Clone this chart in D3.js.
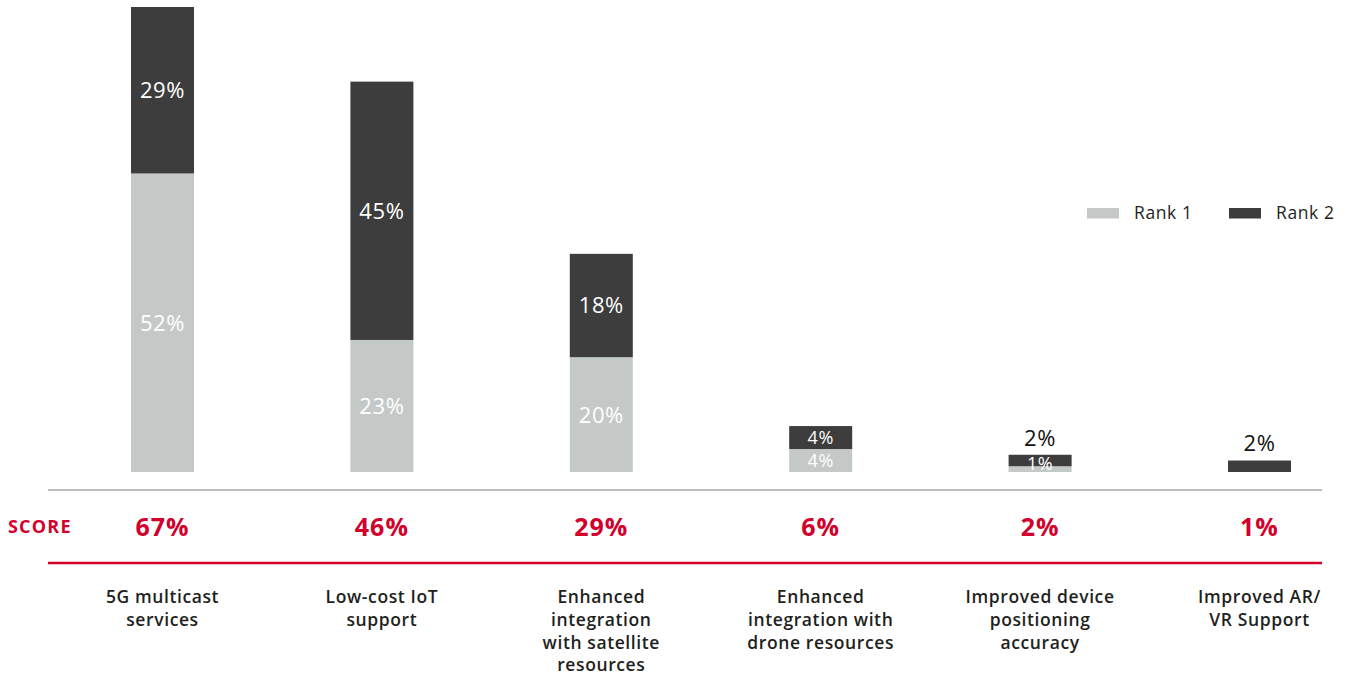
<!DOCTYPE html>
<html>
<head>
<meta charset="utf-8">
<script src="https://cdn.jsdelivr.net/npm/d3@7"></script>
<style>
  html, body { margin: 0; padding: 0; background: #fff; }
  svg { display: block; font-family: "Open Sans", "Noto Sans", sans-serif; }
</style>
</head>
<body>
<svg id="chart" width="1346" height="676"></svg>
<script>
// Ranking of expected capabilities: share of respondents ranking each first / second
const categories = [
  ["5G multicast", "services"],
  ["Low-cost IoT", "support"],
  ["Enhanced", "integration", "with satellite", "resources"],
  ["Enhanced", "integration with", "drone resources"],
  ["Improved device", "positioning", "accuracy"],
  ["Improved AR/", "VR Support"]
];
const rank1 = [52, 23, 20, 4, 1, 0];
const rank2 = [29, 45, 18, 4, 2, 2];
const scores = [67, 46, 29, 6, 2, 1];
const seriesNames = ["Rank 1", "Rank 2"];

const colors = { rank1: "#c4c9c8", rank2: "#3c3d3c", red: "#d2002b", text: "#231f20", rule: "#a9a9a9" };

const svg = d3.select("#chart");
const ids = categories.map((_, i) => i);

const x = d3.scalePoint().domain(ids).range([162.5, 1259.5]);
const barW = 63;
const y = d3.scaleLinear().domain([0, 81]).range([472, 7]);

const rows = ids.map(i => ({ i, r1: rank1[i], r2: rank2[i] }));
const stacked = d3.stack().keys(["r1", "r2"])(rows);

// stacked bars
const layer = svg.append("g").selectAll("g")
  .data(stacked).join("g")
  .attr("fill", (d, k) => k === 0 ? colors.rank1 : colors.rank2);

layer.selectAll("rect")
  .data(d => d.filter(s => s[1] - s[0] > 0))
  .join("rect")
  .attr("x", s => x(s.data.i) - barW / 2)
  .attr("width", barW)
  .attr("y", s => y(s[1]))
  .attr("height", s => y(s[0]) - y(s[1]));

// value labels: inside the segment when it is tall enough, above the bar otherwise
stacked.forEach((ser, k) => {
  ser.forEach(s => {
    const v = s[1] - s[0];
    if (v <= 0) return;
    const h = y(s[0]) - y(s[1]);
    const inside = h >= 15 || k === 0;
    let cy, fill;
    if (inside) {
      cy = Math.min((y(s[0]) + y(s[1])) / 2, y(0) - 8);
      fill = "#ffffff";
    } else {
      cy = y(s[1]) - 17;
      fill = "#111111";
    }
    svg.append("text")
      .attr("x", x(s.data.i))
      .attr("y", cy)
      .attr("dy", "0.36em")
      .attr("text-anchor", "middle")
      .attr("font-size", h < 30 && inside ? 18 : 22)
      .attr("letter-spacing", 0.6)
      .attr("fill", fill)
      .text(v + "%");
  });
});

// baseline rule and score rule
svg.append("line").attr("x1", 48).attr("x2", 1322).attr("y1", 490).attr("y2", 490)
  .attr("stroke", colors.rule).attr("stroke-width", 1.5);
svg.append("line").attr("x1", 48).attr("x2", 1322).attr("y1", 563).attr("y2", 563)
  .attr("stroke", colors.red).attr("stroke-width", 2.5);

// score row
svg.append("text").attr("x", 8).attr("y", 527).attr("dy", "0.36em")
  .attr("font-size", 18).attr("font-weight", 700).attr("letter-spacing", 1.2)
  .attr("fill", colors.red)
  .text("SCORE");
svg.selectAll("text.score").data(ids).join("text")
  .attr("class", "score")
  .attr("x", i => x(i)).attr("y", 527).attr("dy", "0.36em")
  .attr("text-anchor", "middle")
  .attr("font-size", 25).attr("font-weight", 700).attr("letter-spacing", 1)
  .attr("fill", colors.red)
  .text(i => scores[i] + "%");

// category labels
const cat = svg.selectAll("text.cat").data(ids).join("text")
  .attr("class", "cat")
  .attr("text-anchor", "middle")
  .attr("font-size", 17.5).attr("font-weight", 600).attr("letter-spacing", 0.6)
  .attr("fill", colors.text);
cat.selectAll("tspan").data(i => categories[i].map(t => ({ t, i })))
  .join("tspan")
  .attr("x", d => x(d.i))
  .attr("y", (d, j) => 597 + j * 22.7)
  .attr("dy", "0.36em")
  .text(d => d.t);

// legend
const legend = svg.append("g");
const legX = [1087, 1229];
seriesNames.forEach((name, k) => {
  legend.append("rect").attr("x", legX[k]).attr("y", 208).attr("width", 32).attr("height", 10.5)
    .attr("fill", k === 0 ? colors.rank1 : colors.rank2);
  legend.append("text").attr("x", legX[k] + 47).attr("y", 213).attr("dy", "0.36em")
    .attr("font-size", 17.5).attr("letter-spacing", 0.6)
    .attr("fill", colors.text).text(name);
});
</script>
</body>
</html>
